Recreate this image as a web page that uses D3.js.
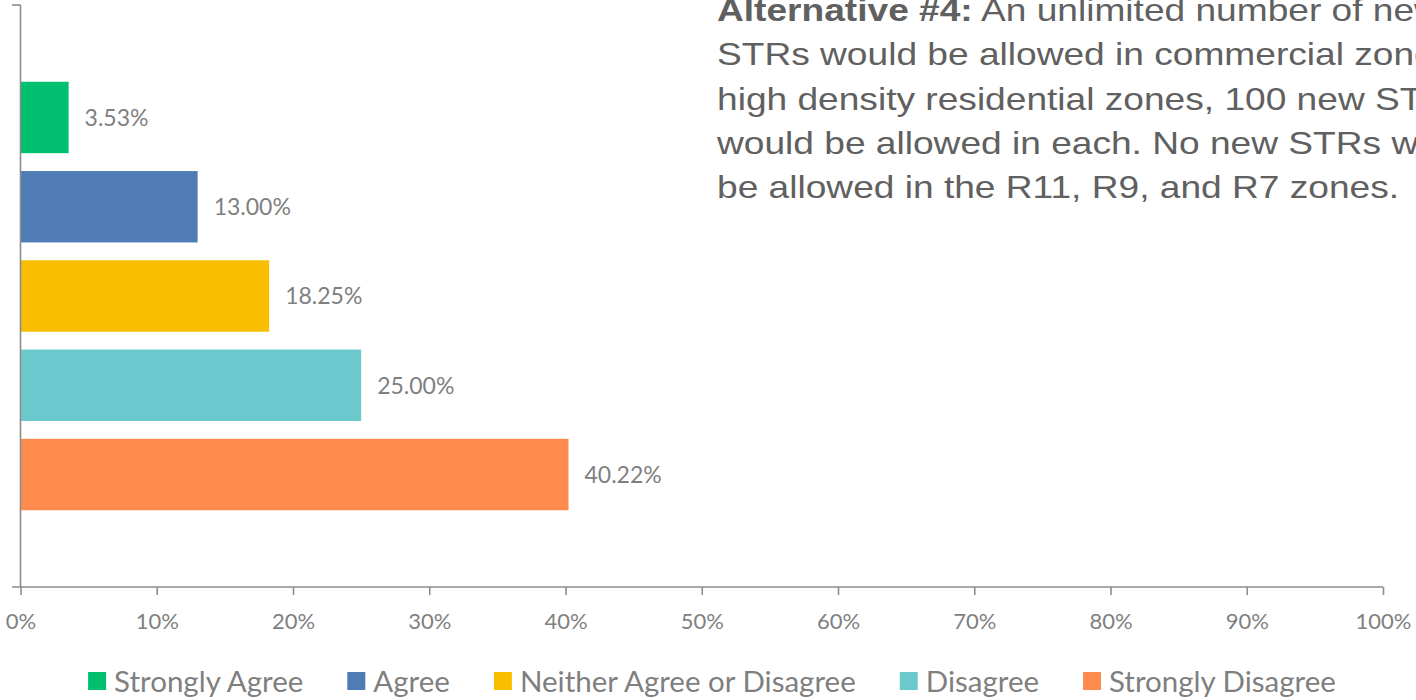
<!DOCTYPE html>
<html>
<head>
<meta charset="utf-8">
<script src="https://cdn.jsdelivr.net/npm/d3@7"></script>
<style>
  html, body { margin: 0; padding: 0; background: #fff; }
  svg { display: block; }
</style>
</head>
<body>
<svg id="chart" width="1416" height="700"></svg>
<script>
// Survey responses for Alternative #4 (share of respondents, %)
const categories = ["Strongly Agree", "Agree", "Neither Agree or Disagree", "Disagree", "Strongly Disagree"];
const values = [3.53, 13.00, 18.25, 25.00, 40.22];
const colors = ["#00BF6F", "#507CB6", "#F9BE00", "#6BC8CD", "#FF8B4F"];
const xTicks = [0, 10, 20, 30, 40, 50, 60, 70, 80, 90, 100];
const descriptionLines = [
  [{ t: "Alternative #4:", b: true }, { t: " An unlimited number of new", b: false }],
  [{ t: "STRs would be allowed in commercial zones. In", b: false }],
  [{ t: "high density residential zones, 100 new STRs", b: false }],
  [{ t: "would be allowed in each. No new STRs would", b: false }],
  [{ t: "be allowed in the R11, R9, and R7 zones.", b: false }]
];

const svg = d3.select("#chart");
const plot = { left: 20.5, right: 1383, top: 5, bottom: 587 };
const labelFont = "Lato, 'Open Sans', sans-serif";
const axisColor = "#8c8c8c";
const textGray = "#7f7f7f";

const x = d3.scaleLinear().domain([0, 100]).range([plot.left, plot.right]);
const y = d3.scaleBand().domain(categories).range([plot.top, plot.bottom])
  .paddingInner(0.2).paddingOuter(0.86);

// Bars
svg.append("g").selectAll("rect")
  .data(categories)
  .join("rect")
  .attr("x", x(0))
  .attr("y", d => y(d))
  .attr("width", (d, i) => x(values[i]) - x(0))
  .attr("height", y.bandwidth())
  .attr("fill", (d, i) => colors[i]);

// Value labels
svg.append("g").selectAll("text")
  .data(categories)
  .join("text")
  .attr("x", (d, i) => x(values[i]) + 16)
  .attr("y", d => y(d) + y.bandwidth() / 2)
  .attr("dy", "0.36em")
  .attr("font-family", labelFont)
  .attr("font-size", 23)
  .attr("fill", textGray)
  .text((d, i) => values[i].toFixed(2) + "%");

// X axis
const xAxis = d3.axisBottom(x)
  .tickValues(xTicks)
  .tickFormat(d => d + "%")
  .tickSize(8)
  .tickSizeOuter(0)
  .tickPadding(18);
const gx = svg.append("g").attr("transform", `translate(0,${plot.bottom})`).call(xAxis);
gx.select(".domain").remove();
gx.selectAll(".tick line").attr("stroke", axisColor).attr("stroke-width", 1.6);
gx.selectAll(".tick text")
  .attr("font-family", labelFont)
  .attr("font-size", 22)
  .attr("fill", textGray);
gx.append("line")
  .attr("x1", plot.left - 8.5).attr("x2", plot.right)
  .attr("y1", 0).attr("y2", 0)
  .attr("stroke", axisColor).attr("stroke-width", 1.6);

// Y axis (single category span, ticks at both ends)
const yAxisG = svg.append("g");
yAxisG.append("line")
  .attr("x1", plot.left).attr("x2", plot.left)
  .attr("y1", plot.top).attr("y2", plot.bottom)
  .attr("stroke", axisColor).attr("stroke-width", 1.6);
yAxisG.append("line")
  .attr("x1", plot.left - 8.5).attr("x2", plot.left)
  .attr("y1", plot.top).attr("y2", plot.top)
  .attr("stroke", axisColor).attr("stroke-width", 1.6);

// Description text (runs past the right edge of the canvas)
const desc = svg.append("g").attr("transform", "translate(717,0) scale(1.16,1)");
descriptionLines.forEach((line, i) => {
  const t = desc.append("text")
    .attr("x", 0)
    .attr("y", 21 + i * 44.3)
    .attr("font-family", "'Liberation Sans', Arial, sans-serif")
    .attr("font-size", 32)
    .attr("fill", "#606060");
  line.forEach(seg => {
    t.append("tspan").attr("font-weight", seg.b ? "bold" : "normal").text(seg.t);
  });
});

// Legend
const legend = svg.append("g");
const sq = 18, textGap = 8, itemGap = 44, legendY = 681;
const items = legend.selectAll("g").data(categories).join("g");
items.append("rect")
  .attr("width", sq).attr("height", sq)
  .attr("y", legendY - sq / 2)
  .attr("fill", (d, i) => colors[i]);
items.append("text")
  .attr("x", sq + textGap)
  .attr("y", legendY)
  .attr("dy", "0.36em")
  .attr("font-family", labelFont)
  .attr("font-size", 29.5)
  .attr("fill", textGray)
  .text(d => d);
let widths = [];
items.each(function () {
  widths.push(sq + textGap + d3.select(this).select("text").node().getComputedTextLength());
});
const total = d3.sum(widths) + itemGap * (widths.length - 1);
let cx = 712 - total / 2;
items.attr("transform", (d, i) => {
  const tx = cx;
  cx += widths[i] + itemGap;
  return `translate(${tx},0)`;
});
</script>
</body>
</html>
